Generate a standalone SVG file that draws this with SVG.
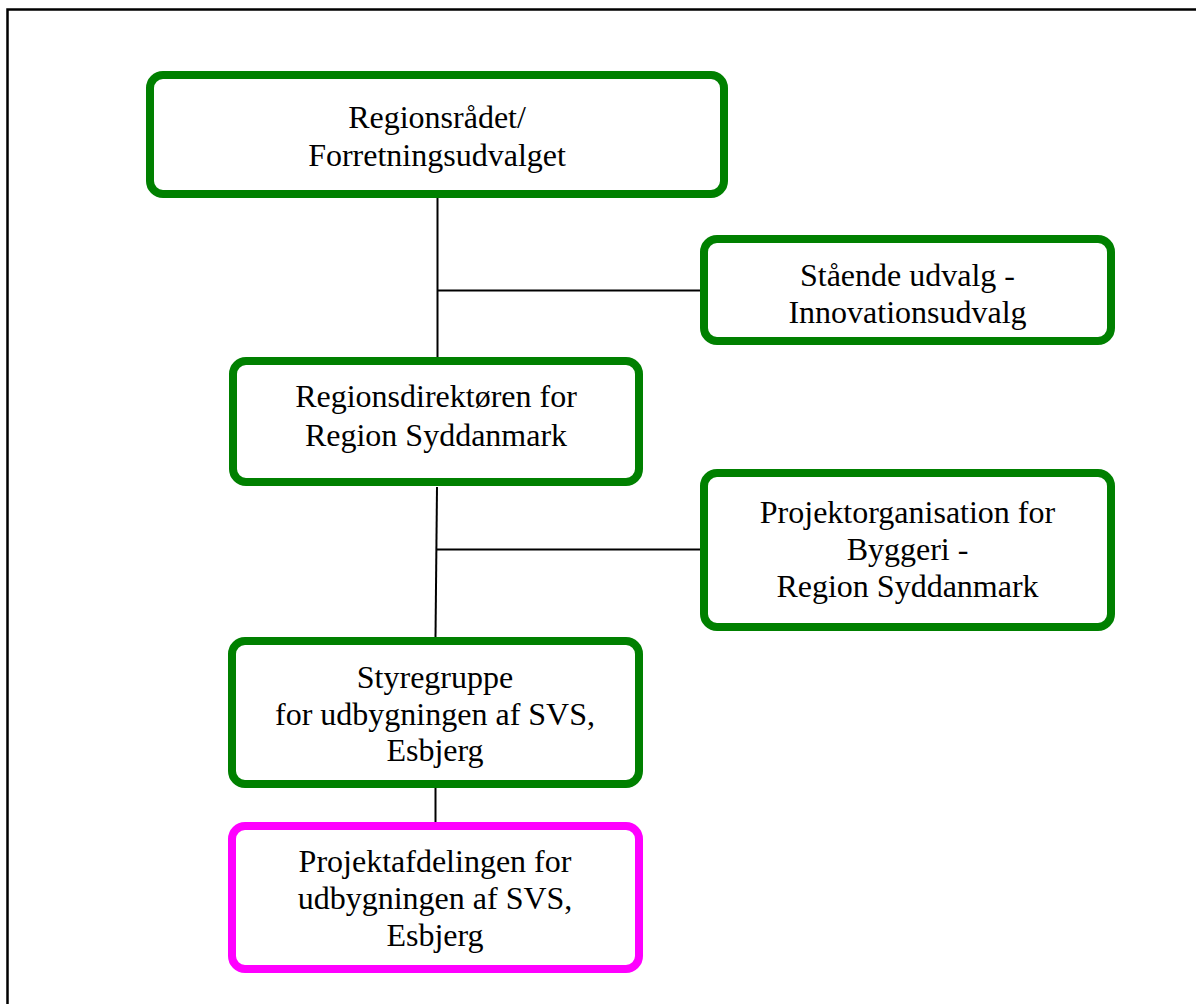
<svg xmlns="http://www.w3.org/2000/svg" width="1196" height="1004" viewBox="0 0 1196 1004">
<style>
.box{fill:#fff;stroke:#008000;stroke-width:8}
.pink{fill:#fff;stroke:#ff00ff;stroke-width:8}
.lbl{font-family:"Liberation Serif","Times New Roman",serif;font-size:32px;fill:#000;text-anchor:middle}
.conn{stroke:#000;stroke-width:2;fill:none}
</style>
<rect x="0" y="0" width="1196" height="1004" fill="#fff"/>
<rect x="7.5" y="9.5" width="1200" height="1010" fill="none" stroke="#000" stroke-width="2.5"/>
<g id="connectors">
<path class="conn" d="M437.5 198 V361"/>
<path class="conn" d="M437.5 290.5 H700"/>
<path class="conn" d="M437 487 L435.5 637"/>
<path class="conn" d="M436.5 549.5 H700"/>
<path class="conn" d="M435.5 788 V822"/>
</g>
<g id="n1">
<rect class="box" x="150" y="75" width="574" height="119" rx="13"/>
<text class="lbl" x="437" y="128"><tspan x="437">Regionsrådet/</tspan><tspan x="437" y="165.5">Forretningsudvalget</tspan></text>
</g>
<g id="n2">
<rect class="box" x="704" y="239" width="407" height="102" rx="13"/>
<text class="lbl" x="907.5" y="286"><tspan x="907.5">Stående udvalg -</tspan><tspan x="907.5" y="323">Innovationsudvalg</tspan></text>
</g>
<g id="n3">
<rect class="box" x="233" y="361" width="406" height="121" rx="13"/>
<text class="lbl" x="436" y="406.5"><tspan x="436">Regionsdirektøren for</tspan><tspan x="436" y="445.5">Region Syddanmark</tspan></text>
</g>
<g id="n4">
<rect class="box" x="704" y="473" width="407" height="154" rx="13"/>
<text class="lbl" x="907.5" y="523"><tspan x="907.5">Projektorganisation for</tspan><tspan x="907.5" y="560">Byggeri -</tspan><tspan x="907.5" y="597">Region Syddanmark</tspan></text>
</g>
<g id="n5">
<rect class="box" x="232" y="641" width="407" height="143" rx="13"/>
<text class="lbl" x="435" y="688"><tspan x="435">Styregruppe</tspan><tspan x="435" y="725">for udbygningen af SVS,</tspan><tspan x="435" y="761">Esbjerg</tspan></text>
</g>
<g id="n6">
<rect class="pink" x="232" y="826" width="407" height="143" rx="13"/>
<text class="lbl" x="435" y="871.5"><tspan x="435">Projektafdelingen for</tspan><tspan x="435" y="908.5">udbygningen af SVS,</tspan><tspan x="435" y="945.5">Esbjerg</tspan></text>
</g>
</svg>
